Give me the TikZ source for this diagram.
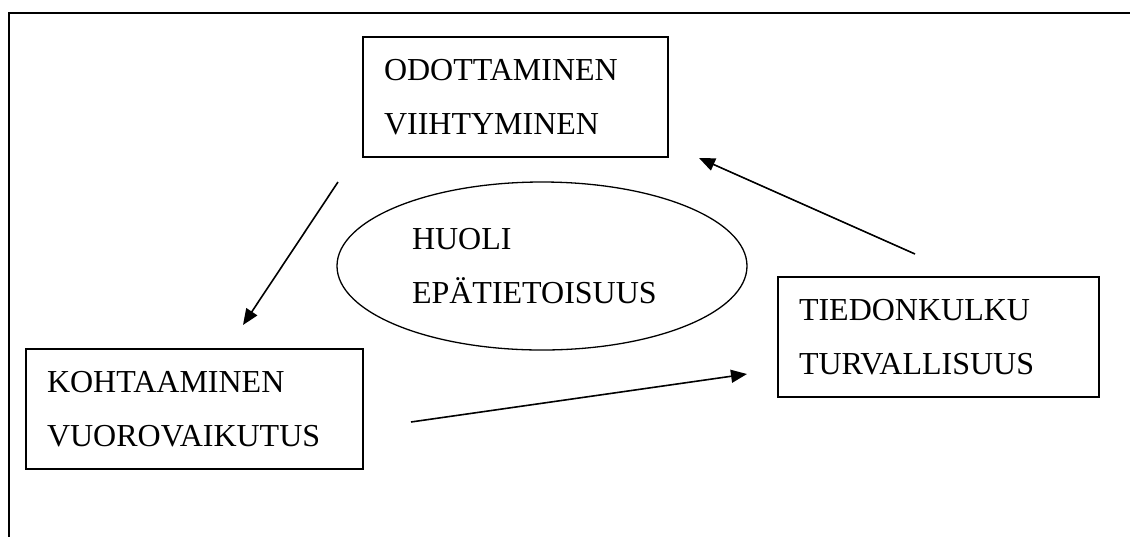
\documentclass[tikz,border=0pt]{standalone}
\usepackage{fontspec}
\setmainfont{Liberation Serif}
\usetikzlibrary{arrows.meta,shapes.geometric}

\begin{document}
\begin{tikzpicture}[x=0.5pt,y=-0.5pt,
  every node/.style={font=\fontsize{16}{27}\selectfont},
  box/.style={draw,line width=0.65pt,rectangle,minimum height=60pt,inner xsep=10.5pt,inner ysep=0pt,align=left},
  oval/.style={draw,line width=0.65pt,ellipse,minimum width=205pt,minimum height=84pt,inner sep=0pt,align=left},
  arr/.style={line width=0.8pt,-{Triangle[length=8pt,width=6.5pt]}}]
\useasboundingbox (0,0) rectangle (1130,537);
\draw [line width=0.8pt] (1130,13) -- (9,13) -- (9,537);
\node [box,text width=131.5pt] (odot) at (515.5,97) {ODOTTAMINEN\\VIIHTYMINEN};
\node [box,text width=147.5pt] (koht) at (194.5,409) {KOHTAAMINEN\\VUOROVAIKUTUS};
\node [box,text width=139.5pt] (tied) at (938.5,337) {TIEDONKULKU\\TURVALLISUUS};
\node [oval,text width=130pt] (huoli) at (542,266) {HUOLI\\EPÄTIETOISUUS};
\coordinate (a1s) at (338,182);
\coordinate (a1e) at (243,325);
\coordinate (a2s) at (915,254);
\coordinate (a2e) at (699,158);
\coordinate (a3s) at (411,422);
\coordinate (a3e) at (747,374);
\draw [arr] (a1s) -- (a1e);
\draw [arr] (a2s) -- (a2e);
\draw [arr] (a3s) -- (a3e);
\end{tikzpicture}
\end{document}
